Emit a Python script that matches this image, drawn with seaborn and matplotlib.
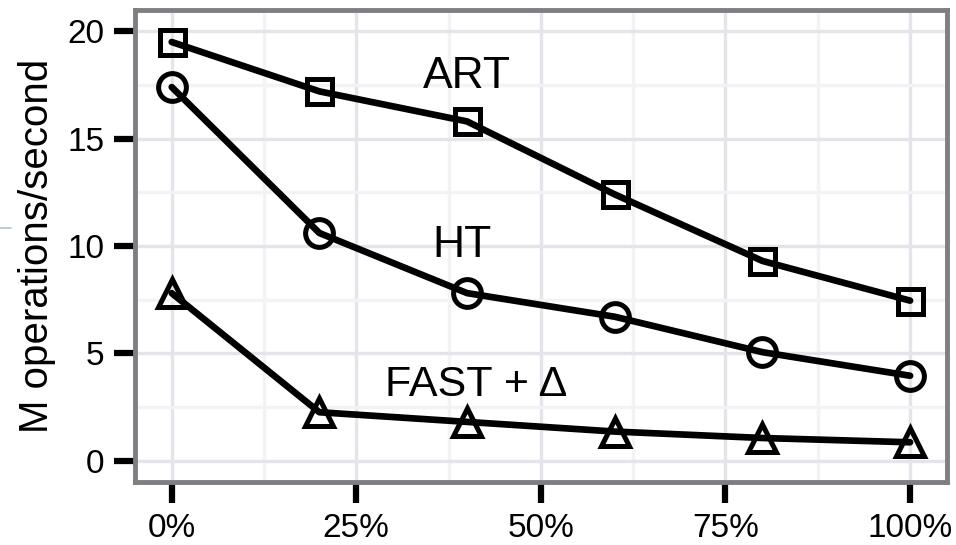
import matplotlib
matplotlib.use("Agg")
import matplotlib.pyplot as plt
from matplotlib.lines import Line2D
import numpy as np
import pandas as pd
import seaborn as sns

# read-off values (M operations/second) at each update share
X_SHARE = [0, 20, 40, 60, 80, 100]
ART = [19.5, 17.2, 15.8, 12.4, 9.3, 7.45]
HT = [17.4, 10.6, 7.8, 6.7, 5.05, 3.95]
FAST_DELTA = [7.8, 2.25, 1.8, 1.35, 1.05, 0.85]

X_TICKS = [0, 25, 50, 75, 100]
X_TICK_LABELS = ["0%", "25%", "50%", "75%", "100%"]
Y_TICKS = [0, 5, 10, 15, 20]

SERIES = [
    ("ART", ART, "s", 18),
    ("HT", HT, "o", 20),
    ("FAST + Δ", FAST_DELTA, "^", 20),
]


def main():
    sns.set_theme(style="white")
    plt.rcParams["font.family"] = ["Liberation Sans", "DejaVu Sans"]

    fig, ax = plt.subplots(figsize=(9.56, 5.45), dpi=100)
    fig.subplots_adjust(left=0.141, right=0.9906, top=0.982, bottom=0.1156)

    for name, values, marker, msize in SERIES:
        df = pd.DataFrame({"x": X_SHARE, "y": values})
        sns.lineplot(
            data=df, x="x", y="y", ax=ax, color="black", linewidth=4.8,
            marker=marker, markersize=msize, markerfacecolor="none",
            markeredgecolor="black", markeredgewidth=3.6, zorder=3,
        )

    ax.set_xlim(-5, 105)
    ax.set_ylim(-1, 21)
    ax.set_xticks(X_TICKS)
    ax.set_xticklabels(X_TICK_LABELS)
    ax.set_yticks(Y_TICKS)
    ax.set_xticks([12.5, 37.5, 62.5, 87.5], minor=True)
    ax.set_yticks([2.5, 7.5, 12.5, 17.5], minor=True)

    ax.grid(which="major", color="#e4e4ea", linewidth=2.4)
    ax.grid(which="minor", color="#f3f3f5", linewidth=2.4)
    ax.set_axisbelow(True)
    ax.set_facecolor("white")

    for sp in ax.spines.values():
        sp.set_visible(True)
        sp.set_color("#7d7f82")
        sp.set_linewidth(3.5)

    ax.tick_params(which="major", direction="out", length=15, width=4.5,
                   color="black", labelsize=24, labelcolor="black", pad=7,
                   bottom=True, left=True)
    ax.tick_params(which="minor", length=0)

    ax.set_xlabel("")
    ax.set_ylabel("M operations/second", fontsize=29, color="black", labelpad=8)

    ax.text(40, 17.9, "ART", fontsize=32, ha="center", va="center", color="black")
    ax.text(39.3, 10.0, "HT", fontsize=32, ha="center", va="center", color="black")
    ax.text(41.2, 3.5, "FAST + Δ", fontsize=31, ha="center", va="center", color="black")

    # small stray mark at the left edge of the original picture
    fig.add_artist(Line2D([0.0, 0.011], [1 - 228 / 545] * 2, color="#b3c2d0",
                          linewidth=1.2, transform=fig.transFigure))

    fig.savefig("out.png", dpi=100)
    plt.close(fig)


if __name__ == "__main__":
    main()
